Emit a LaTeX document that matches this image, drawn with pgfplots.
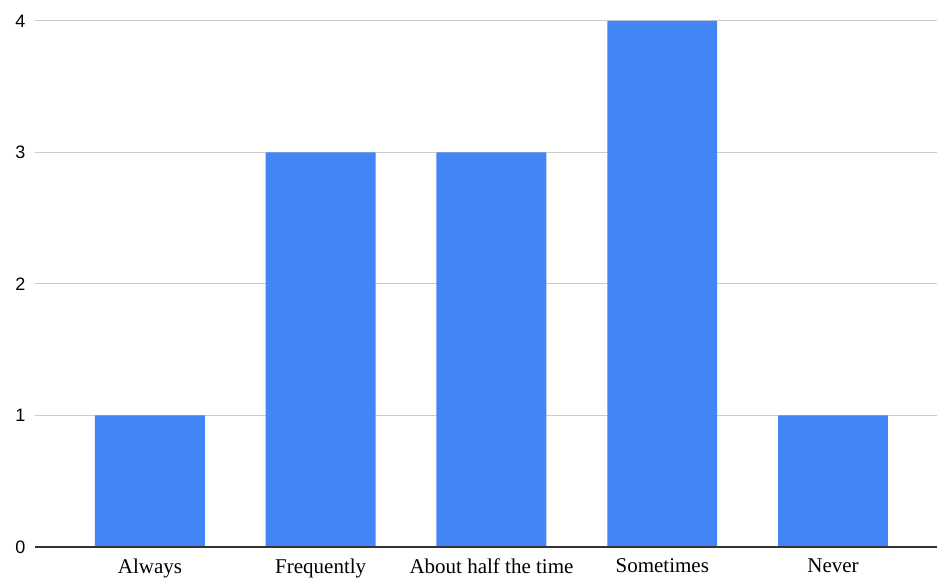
\documentclass[border=0pt]{standalone}
\usepackage{pgfplots}
\pgfplotsset{compat=1.18}
\usepackage{fontspec}
\setmainfont{Liberation Serif}
\newfontfamily\sansf{Liberation Sans}
\definecolor{barblue}{HTML}{4285F4}
\definecolor{gridgray}{HTML}{CCCCCC}
\definecolor{axisgray}{HTML}{333333}
\begin{document}
\begin{tikzpicture}[x=1pt,y=1pt]
\begin{axis}[
  at={(0,0)}, anchor=south west,
  scale only axis,
  width=902pt, height=526pt,
  xmin=-0.673, xmax=4.609,
  ymin=0, ymax=4,
  ytick={0,1,2,3,4},
  xtick={0,1,2,3,4},
  xticklabels={Always,Frequently,About half the time,Sometimes,Never},
  axis line style={draw=none},
  major tick length=0pt,
  ymajorgrids,
  grid style={gridgray, line width=1pt},
  yticklabel style={font=\sansf\fontsize{18}{20}\selectfont, xshift=-6pt},
  xticklabel style={font=\fontsize{21}{22}\selectfont, yshift=-8pt},
  /pgf/number format/assume math mode=true,
  clip=false,
]
\addplot[ybar, bar width=0.644, fill=barblue, draw=none] coordinates {
  (0,1) (1,3) (2,3) (3,4) (4,1)
};
\draw[axisgray, line width=1.2pt] (axis cs:-0.673,0) -- (axis cs:4.609,0);
\end{axis}
\pgfresetboundingbox
\path (-35,-33) rectangle (902,547);
\end{tikzpicture}
\end{document}
